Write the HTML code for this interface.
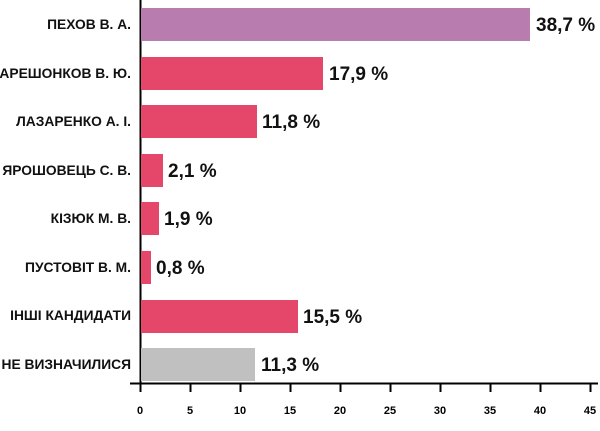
<!DOCTYPE html><html><head><meta charset="utf-8"><style>body{margin:0;background:#fff}</style></head><body>
<svg width="600" height="426" xmlns="http://www.w3.org/2000/svg" font-family="Liberation Sans, sans-serif" font-weight="bold">
<line x1="140.5" y1="0" x2="140.5" y2="384" stroke="#000" stroke-width="2"/>
<line x1="130" y1="383.5" x2="598" y2="383.5" stroke="#000" stroke-width="2"/>
<g stroke="#000" stroke-width="2">
<line x1="140.5" y1="383" x2="140.5" y2="392"/><line x1="190.5" y1="383" x2="190.5" y2="392"/><line x1="240.5" y1="383" x2="240.5" y2="392"/><line x1="290.5" y1="383" x2="290.5" y2="392"/><line x1="340.5" y1="383" x2="340.5" y2="392"/><line x1="390.5" y1="383" x2="390.5" y2="392"/><line x1="440.5" y1="383" x2="440.5" y2="392"/><line x1="490.5" y1="383" x2="490.5" y2="392"/><line x1="540.5" y1="383" x2="540.5" y2="392"/><line x1="590.5" y1="383" x2="590.5" y2="392"/>
</g>
<g font-size="11" text-anchor="middle">
<text x="140" y="414">0</text><text x="190" y="414">5</text><text x="240" y="414">10</text><text x="290" y="414">15</text><text x="340" y="414">20</text><text x="390" y="414">25</text><text x="440" y="414">30</text><text x="490" y="414">35</text><text x="540" y="414">40</text><text x="590" y="414">45</text>
</g>
<g>
<rect x="141" y="8" width="389" height="33" fill="#b97cae"/>
<rect x="141" y="57" width="182" height="33" fill="#e5476b"/>
<rect x="141" y="105" width="116" height="33" fill="#e5476b"/>
<rect x="141" y="154" width="22" height="33" fill="#e5476b"/>
<rect x="141" y="202" width="18" height="33" fill="#e5476b"/>
<rect x="141" y="251" width="10" height="33" fill="#e5476b"/>
<rect x="141" y="300" width="157" height="33" fill="#e5476b"/>
<rect x="141" y="348" width="114" height="33" fill="#c0c0c0"/>
</g>
<g font-size="13.8" text-anchor="end" fill="#111">
<text x="131" y="29">ПЕХОВ В. А.</text>
<text x="131" y="78">АРЕШОНКОВ В. Ю.</text>
<text x="131" y="126">ЛАЗАРЕНКО А. І.</text>
<text x="131" y="175">ЯРОШОВЕЦЬ С. В.</text>
<text x="131" y="223">КІЗЮК М. В.</text>
<text x="131" y="272">ПУСТОВІТ В. М.</text>
<text x="131" y="320">ІНШІ КАНДИДАТИ</text>
<text x="131" y="369">НЕ ВИЗНАЧИЛИСЯ</text>
</g>
<g font-size="19" fill="#111">
<text x="536" y="31">38,7 %</text>
<text x="329" y="80">17,9 %</text>
<text x="262" y="128">11,8 %</text>
<text x="168" y="177">2,1 %</text>
<text x="164" y="225">1,9 %</text>
<text x="156" y="274">0,8 %</text>
<text x="303" y="323">15,5 %</text>
<text x="261" y="371">11,3 %</text>
</g>
</svg></body></html>
